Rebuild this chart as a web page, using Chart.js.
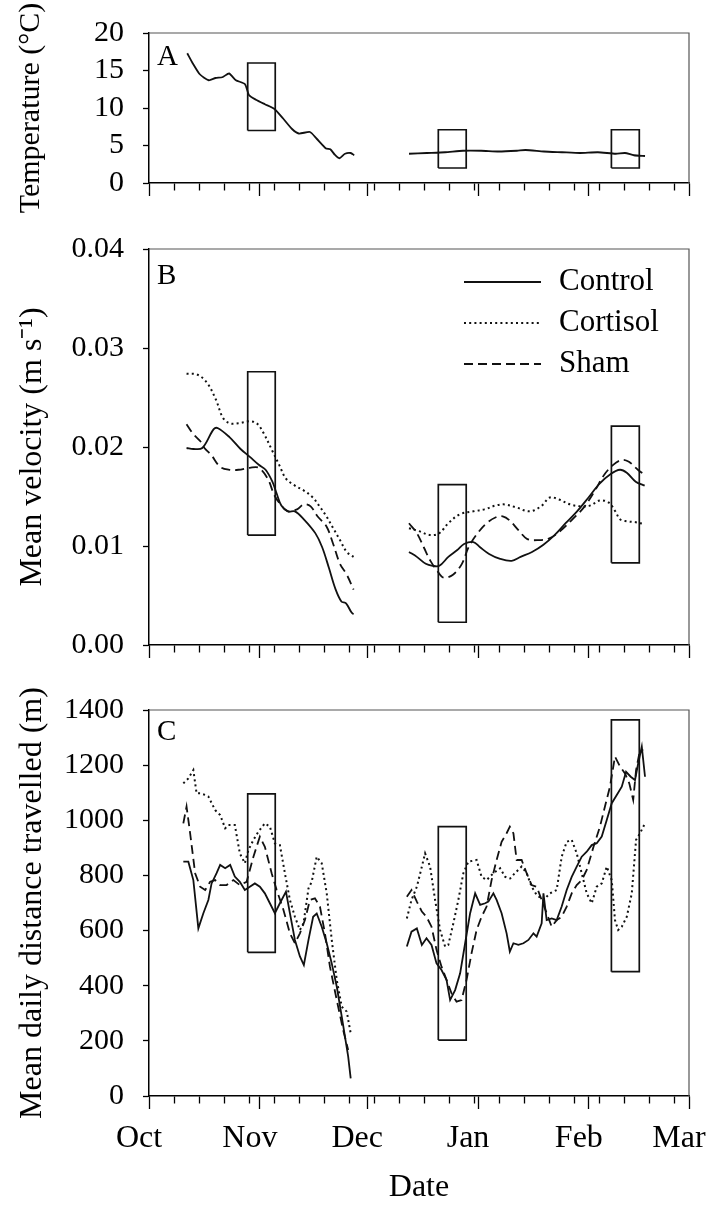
<!DOCTYPE html>
<html lang="en">
<head>
<meta charset="UTF-8">
<title>Temperature, velocity and daily distance</title>
<script src="https://cdn.jsdelivr.net/npm/chart.js"></script>
<style>
  body { margin: 0; background: #fff; }
  .wrap { position: relative; width: 711px; height: 1207px; }
  .wrap canvas { position: absolute; left: 0; }
</style>
</head>
<body>
<div class="wrap">
  <canvas id="tempChart" width="711" height="230" style="top:0px"></canvas>
  <canvas id="velChart" width="711" height="430" style="top:230px"></canvas>
  <canvas id="distChart" width="711" height="547" style="top:660px"></canvas>
</div>

<script>
  // x values are days since 1 Oct
  const monthDays = [0, 31, 61, 92, 123, 151];
  const monthLabels = ['Oct', 'Nov', 'Dec', 'Jan', 'Feb', 'Mar'];
  const weekDays = [0, 7, 14, 21, 28, 35, 42, 49, 56, 63, 70, 77, 84, 91, 98, 105, 112, 119, 126, 133, 140, 147];

  const tempTicks = [0, 5, 10, 15, 20];
  const velTicks = [0, 0.01, 0.02, 0.03, 0.04];
  const distTicks = [0, 200, 400, 600, 800, 1000, 1200, 1400];

  // sampling windows (boxes)
  const boxLeft = [27.6, 80.9, 129.3];
  const boxRight = [35.3, 88.7, 137.1];
  const tempBoxLow = [7, 2, 2];
  const tempBoxHigh = [16, 7.1, 7.1];
  const velBoxLow = [0.0111, 0.0023, 0.0083];
  const velBoxHigh = [0.0276, 0.0162, 0.0221];
  const distBoxLow = [521, 203, 451];
  const distBoxHigh = [1096, 977, 1364];

  // A: temperature
  const tempDaysAut = [10.7, 12.3, 14.2, 16.7, 18.6, 20.5, 22.4, 24.3, 26.8, 28.0, 29.9, 32.4, 35.0, 37.5, 40.0, 41.9, 45.0, 46.9, 49.5, 50.7, 51.9, 53.2, 54.8, 56.4, 57.4];
  const tempAut = [17.3, 15.9, 14.5, 13.7, 14.0, 14.1, 14.6, 13.7, 13.2, 11.7, 11.1, 10.5, 9.9, 8.6, 7.2, 6.6, 6.8, 5.9, 4.6, 4.5, 3.8, 3.3, 3.9, 4.0, 3.7];
  const tempDaysWin = [72.7, 77.7, 82.8, 87.8, 92.9, 97.8, 102.9, 105.3, 110.4, 115.5, 120.5, 125.5, 130.5, 133.1, 135.6, 138.7];
  const tempWin = [3.9, 4.0, 4.1, 4.3, 4.3, 4.2, 4.3, 4.4, 4.2, 4.1, 4.0, 4.1, 3.9, 4.0, 3.7, 3.6];

  // B: mean velocity
  const ctrlVelDaysAut = [10.5, 12.4, 14.9, 18.1, 19.3, 22.5, 25.6, 28.2, 30.7, 32.6, 34.5, 35.7, 37.0, 38.9, 40.8, 43.3, 46.5, 48.4, 50.3, 52.1, 53.8, 55.1, 56.6, 57.2];
  const ctrlVelAut = [0.0199, 0.0198, 0.0199, 0.0218, 0.0219, 0.0210, 0.0198, 0.0190, 0.0182, 0.0177, 0.0165, 0.0153, 0.0141, 0.0135, 0.0135, 0.0127, 0.0113, 0.0099, 0.0078, 0.0057, 0.0044, 0.0042, 0.0033, 0.0031];
  const ctrlVelDaysWin = [72.7, 74.9, 77.4, 79.3, 81.2, 83.7, 86.2, 88.1, 90.7, 92.5, 95.1, 98.2, 101.4, 103.9, 107.1, 110.2, 113.4, 116.5, 119.7, 122.9, 126.0, 129.2, 131.7, 133.6, 136.1, 138.6];
  const ctrlVelWin = [0.0094, 0.0089, 0.0082, 0.0080, 0.0080, 0.0089, 0.0096, 0.0102, 0.0104, 0.0099, 0.0092, 0.0087, 0.0085, 0.0089, 0.0094, 0.0101, 0.0111, 0.0123, 0.0135, 0.0149, 0.0163, 0.0173, 0.0177, 0.0174, 0.0165, 0.0161];

  const cortVelDaysAut = [10.5, 13.6, 16.2, 18.7, 20.6, 22.5, 25.0, 28.2, 30.1, 31.9, 34.5, 36.4, 38.3, 40.8, 43.3, 45.8, 47.7, 49.6, 51.5, 53.4, 55.3, 57.2];
  const cortVelAut = [0.0274, 0.0273, 0.0265, 0.0248, 0.0230, 0.0224, 0.0224, 0.0226, 0.0224, 0.0215, 0.0196, 0.0182, 0.0168, 0.0161, 0.0156, 0.0149, 0.0140, 0.0130, 0.0118, 0.0106, 0.0094, 0.0089];
  const cortVelDaysWin = [72.7, 75.5, 78.7, 81.2, 83.7, 86.9, 90.7, 93.8, 97.0, 99.5, 102.7, 106.4, 109.6, 112.1, 114.6, 117.8, 121.0, 123.5, 126.0, 128.5, 130.4, 131.7, 133.6, 136.1, 138.6];
  const cortVelWin = [0.0118, 0.0115, 0.0111, 0.0113, 0.0123, 0.0132, 0.0135, 0.0137, 0.0141, 0.0142, 0.0139, 0.0135, 0.0140, 0.0149, 0.0147, 0.0142, 0.0140, 0.0141, 0.0146, 0.0144, 0.0135, 0.0127, 0.0125, 0.0124, 0.0122];

  const shamVelDaysAut = [10.5, 12.4, 14.3, 15.5, 17.4, 19.9, 22.5, 25.0, 28.2, 30.7, 33.2, 35.1, 37.0, 38.9, 41.4, 43.3, 45.2, 47.1, 49.6, 51.5, 53.4, 55.3, 57.2];
  const shamVelAut = [0.0223, 0.0213, 0.0206, 0.0199, 0.0192, 0.0180, 0.0177, 0.0177, 0.0179, 0.0179, 0.0168, 0.0151, 0.0141, 0.0135, 0.0137, 0.0142, 0.0140, 0.0130, 0.0120, 0.0102, 0.0082, 0.0071, 0.0056];
  const shamVelDaysWin = [72.7, 74.9, 76.8, 78.7, 80.6, 82.4, 85.0, 87.5, 89.4, 91.9, 94.4, 97.0, 98.9, 100.8, 103.3, 105.8, 109.0, 112.1, 115.3, 118.4, 121.6, 124.7, 127.3, 129.8, 132.3, 134.2, 136.7, 138.6];
  const shamVelWin = [0.0123, 0.0113, 0.0099, 0.0085, 0.0075, 0.0068, 0.0071, 0.0082, 0.0099, 0.0113, 0.0123, 0.0129, 0.0130, 0.0126, 0.0116, 0.0107, 0.0106, 0.0108, 0.0116, 0.0127, 0.0139, 0.0156, 0.0172, 0.0182, 0.0187, 0.0185, 0.0177, 0.0172];

  // C: mean daily distance travelled
  const ctrlDistDaysAut = [9.6, 11.0, 12.4, 13.8, 15.2, 16.6, 17.5, 18.9, 19.9, 21.3, 22.7, 24.0, 25.4, 26.8, 28.2, 29.6, 31.0, 32.4, 33.8, 35.2, 36.6, 38.3, 39.4, 40.8, 42.2, 43.3, 44.6, 45.9, 46.9, 48.3, 49.7, 51.1, 52.5, 53.9, 54.8, 55.7, 56.4];
  const ctrlDistAut = [850, 850, 783, 608, 663, 711, 771, 808, 838, 826, 838, 796, 777, 747, 759, 771, 759, 735, 699, 663, 699, 741, 663, 566, 506, 475, 566, 650, 662, 614, 554, 481, 397, 288, 215, 143, 64];
  const ctrlDistDaysWin = [72.1, 73.4, 74.9, 76.3, 77.6, 79.0, 80.4, 81.8, 83.2, 84.2, 85.6, 87.0, 88.4, 89.8, 91.2, 92.6, 94.0, 94.9, 96.3, 97.2, 98.6, 100.0, 100.9, 101.9, 103.3, 104.7, 106.1, 107.5, 108.4, 109.8, 110.3, 111.2, 112.6, 114.0, 115.4, 116.8, 118.2, 119.6, 121.0, 122.4, 123.8, 125.2, 126.6, 128.0, 129.4, 130.8, 132.2, 133.4, 134.7, 135.9, 136.8, 137.8, 138.7];
  const ctrlDistWin = [542, 596, 608, 548, 572, 548, 481, 457, 421, 348, 384, 445, 554, 663, 735, 693, 699, 705, 735, 711, 663, 590, 524, 554, 548, 554, 566, 590, 578, 626, 735, 638, 644, 638, 687, 747, 795, 832, 868, 886, 910, 917, 941, 1001, 1062, 1092, 1122, 1176, 1158, 1146, 1207, 1267, 1158];

  const cortDistDaysAut = [9.6, 11.0, 12.4, 13.3, 14.3, 15.7, 16.6, 18.5, 19.9, 21.3, 22.2, 24.0, 25.4, 26.8, 27.8, 29.2, 30.6, 32.4, 33.8, 35.2, 36.6, 38.0, 39.4, 40.8, 42.2, 43.2, 44.6, 45.5, 46.9, 48.3, 49.7, 51.1, 52.5, 53.9, 55.3, 56.4];
  const cortDistAut = [1134, 1152, 1182, 1098, 1098, 1092, 1086, 1037, 1019, 971, 983, 983, 880, 844, 892, 929, 959, 989, 977, 916, 910, 808, 711, 650, 602, 626, 753, 777, 868, 844, 735, 566, 421, 324, 306, 227];
  const cortDistDaysWin = [72.1, 73.4, 74.9, 76.3, 77.2, 78.6, 80.0, 81.4, 82.8, 83.7, 85.1, 86.5, 87.9, 89.3, 91.6, 93.0, 94.4, 96.3, 98.2, 99.6, 101.0, 102.3, 104.2, 105.6, 107.0, 108.4, 110.3, 112.1, 114.0, 115.4, 116.8, 118.2, 119.6, 121.0, 122.4, 123.8, 125.2, 126.6, 128.0, 129.4, 130.3, 131.2, 132.2, 133.6, 135.0, 136.2, 137.3, 138.7];
  const cortDistWin = [644, 711, 759, 832, 880, 832, 711, 602, 542, 548, 626, 711, 808, 850, 856, 795, 783, 808, 826, 795, 789, 808, 832, 808, 759, 729, 711, 735, 747, 868, 922, 929, 880, 808, 735, 699, 759, 771, 832, 783, 638, 602, 614, 650, 735, 929, 953, 989];

  const shamDistDaysAut = [9.6, 10.5, 11.5, 12.9, 14.3, 15.7, 17.1, 18.5, 19.9, 21.7, 23.6, 25.4, 27.3, 29.2, 31.0, 32.4, 34.3, 35.7, 37.6, 39.4, 40.8, 42.2, 43.6, 45.0, 46.4, 47.8, 49.2, 50.6, 52.5, 54.3, 55.7];
  const shamDistAut = [989, 1050, 953, 808, 759, 747, 777, 783, 765, 765, 783, 765, 777, 868, 941, 904, 808, 747, 675, 590, 554, 590, 638, 711, 717, 687, 590, 469, 348, 239, 167];
  const shamDistDaysWin = [72.1, 73.4, 74.9, 76.3, 77.6, 79.0, 80.4, 81.8, 83.2, 84.6, 86.0, 87.4, 88.8, 90.2, 91.6, 93.0, 94.4, 95.8, 97.2, 98.6, 100.0, 100.9, 101.9, 102.8, 104.2, 105.6, 107.0, 108.4, 109.8, 111.2, 112.6, 114.0, 115.4, 116.8, 118.2, 119.6, 121.0, 122.4, 124.3, 126.1, 127.5, 128.9, 130.3, 131.7, 133.1, 134.3, 135.4, 136.2, 137.3, 138.2];
  const shamDistWin = [723, 747, 705, 669, 650, 614, 530, 469, 421, 372, 342, 348, 421, 518, 602, 650, 687, 783, 856, 922, 953, 977, 953, 856, 856, 808, 765, 759, 711, 663, 614, 638, 650, 687, 735, 765, 783, 820, 904, 977, 1050, 1122, 1231, 1195, 1170, 1134, 1074, 1182, 1255, 1255];

  const serif = "'Liberation Serif', 'Times New Roman', serif";
  Chart.defaults.font.family = serif;
  Chart.defaults.color = '#000';

  const xTicks = Array.from(new Set(weekDays.concat(monthDays))).sort((a, b) => a - b);

  // two segments with a gap in December
  function seg(d1, v1, d2, v2) {
    const pts = d1.map((d, i) => ({ x: d, y: v1[i] }));
    pts.push({ x: 65, y: null });
    return pts.concat(d2.map((d, i) => ({ x: d, y: v2[i] })));
  }

  function boxes(low, high) {
    return boxLeft.map((l, i) => ({
      data: [
        { x: l, y: low[i] }, { x: l, y: high[i] }, { x: boxRight[i], y: high[i] },
        { x: boxRight[i], y: low[i] }, { x: l, y: low[i] }
      ],
      borderColor: '#111', borderWidth: 1.7, pointRadius: 0, tension: 0
    }));
  }

  function series(label, data, dash, width, tension) {
    return {
      label: label, data: data, borderColor: '#111', borderWidth: width,
      borderDash: dash, pointRadius: 0, tension: tension, spanGaps: false
    };
  }

  const decor = {
    id: 'decor',
    afterDraw(chart, args, opts) {
      const { ctx, chartArea: a } = chart;
      ctx.save();
      ctx.strokeStyle = '#555';
      ctx.lineWidth = 1.2;
      ctx.beginPath();
      ctx.moveTo(a.left, a.top);
      ctx.lineTo(a.right, a.top);
      ctx.lineTo(a.right, a.bottom);
      ctx.stroke();

      ctx.fillStyle = '#000';
      ctx.textBaseline = 'middle';
      ctx.textAlign = 'left';
      ctx.font = '29px ' + serif;
      ctx.fillText(opts.letter, a.left + 8, a.top + opts.letterDy);

      if (opts.key) {
        ctx.font = '31px ' + serif;
        chart.data.datasets.filter(ds => ds.label).forEach((ds, i) => {
          const y = a.top + 33 + i * 41;
          ctx.setLineDash(ds.borderDash);
          ctx.lineWidth = ds.borderWidth;
          ctx.strokeStyle = '#111';
          ctx.beginPath();
          ctx.moveTo(a.left + 315, y);
          ctx.lineTo(a.left + 392, y);
          ctx.stroke();
          ctx.setLineDash([]);
          ctx.fillText(ds.label, a.left + 410, y);
        });
      }
      ctx.restore();
    }
  };

  function makeChart(id, cfg) {
    return new Chart(document.getElementById(id), {
      type: 'line',
      data: { datasets: cfg.datasets },
      plugins: [decor],
      options: {
        responsive: false,
        animation: false,
        layout: { padding: { top: cfg.padTop, right: 22, left: 0, bottom: 0 } },
        plugins: {
          legend: { display: false },
          tooltip: { enabled: false },
          decor: { letter: cfg.letter, letterDy: cfg.letterDy, key: cfg.key }
        },
        scales: {
          x: {
            type: 'linear', min: 0, max: 151,
            border: { color: '#000', width: 1.5 },
            grid: {
              drawOnChartArea: false, color: '#000', tickLength: 13, tickWidth: 1.3,
              tickBorderDash: c => (c.tick && monthDays.includes(c.tick.value)) ? [] : [7, 30]
            },
            ticks: {
              display: cfg.xLabels, autoSkip: false, maxRotation: 0, padding: 10, labelOffset: -10,
              font: { size: 32 },
              callback: v => { const i = monthDays.indexOf(v); return i < 0 ? '' : monthLabels[i]; }
            },
            title: { display: cfg.xLabels, text: 'Date', font: { size: 32 }, padding: { top: 0, bottom: 0 } },
            afterBuildTicks: s => { s.ticks = xTicks.map(v => ({ value: v })); },
            afterFit: s => { s.height = cfg.xHeight; s.paddingLeft = 0; s.paddingRight = 0; }
          },
          y: {
            type: 'linear', min: cfg.yTicks[0], max: cfg.yTicks[cfg.yTicks.length - 1],
            border: { color: '#000', width: 1.5 },
            grid: { drawOnChartArea: false, color: '#000', tickLength: 6, tickWidth: 1.3 },
            ticks: { autoSkip: false, padding: 19, font: { size: 30 }, callback: cfg.yFmt },
            title: { display: true, text: cfg.yTitle, font: { size: cfg.titleSize }, padding: { top: 13, bottom: 0 } },
            afterBuildTicks: s => { s.ticks = cfg.yTicks.map(v => ({ value: v })); },
            afterFit: s => { s.width = 149; s.paddingTop = 0; s.paddingBottom = 0; }
          }
        }
      }
    });
  }

  makeChart('tempChart', {
    padTop: 33, xHeight: 47, xLabels: false, letter: 'A', letterDy: 24, titleSize: 30,
    yTicks: tempTicks, yFmt: v => String(v), yTitle: 'Temperature (\u00B0C)',
    datasets: [
      { data: seg(tempDaysAut, tempAut, tempDaysWin, tempWin), borderColor: '#111', borderWidth: 1.8, pointRadius: 0, tension: 0.2, spanGaps: false }
    ].concat(boxes(tempBoxLow, tempBoxHigh))
  });

  makeChart('velChart', {
    padTop: 19, xHeight: 15, xLabels: false, letter: 'B', letterDy: 27, key: true, titleSize: 32,
    yTicks: velTicks, yFmt: v => v.toFixed(2), yTitle: 'Mean velocity (m s\u207B\u00B9)',
    datasets: [
      series('Control', seg(ctrlVelDaysAut, ctrlVelAut, ctrlVelDaysWin, ctrlVelWin), [], 1.8, 0.35),
      series('Cortisol', seg(cortVelDaysAut, cortVelAut, cortVelDaysWin, cortVelWin), [2, 3.2], 2, 0.35),
      series('Sham', seg(shamVelDaysAut, shamVelAut, shamVelDaysWin, shamVelWin), [9, 5], 1.8, 0.35)
    ].concat(boxes(velBoxLow, velBoxHigh))
  });

  makeChart('distChart', {
    padTop: 50, xHeight: 111, xLabels: true, letter: 'C', letterDy: 22, titleSize: 32,
    yTicks: distTicks, yFmt: v => String(v), yTitle: 'Mean daily distance travelled (m)',
    datasets: [
      series('Control', seg(ctrlDistDaysAut, ctrlDistAut, ctrlDistDaysWin, ctrlDistWin), [], 1.8, 0),
      series('Cortisol', seg(cortDistDaysAut, cortDistAut, cortDistDaysWin, cortDistWin), [2, 3.2], 2, 0),
      series('Sham', seg(shamDistDaysAut, shamDistAut, shamDistDaysWin, shamDistWin), [9, 5], 1.8, 0)
    ].concat(boxes(distBoxLow, distBoxHigh))
  });
</script>
</body>
</html>
